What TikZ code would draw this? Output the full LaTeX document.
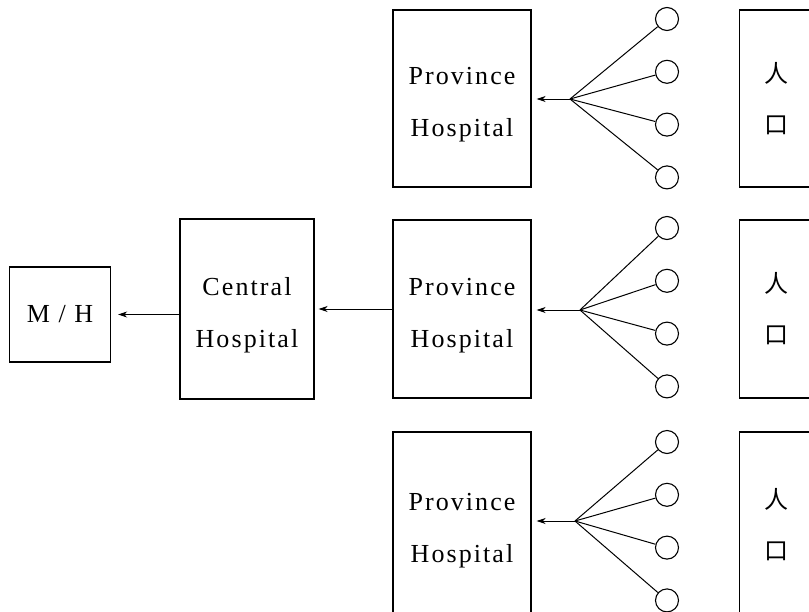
\documentclass[tikz,border=0pt]{standalone}
\usepackage{fontspec}
\setmainfont{Liberation Serif}[LetterSpace=8]
\newfontfamily\cjk{Noto Sans CJK SC}
\usetikzlibrary{arrows.meta,positioning}
\newcommand{\lift}{\rule{0pt}{30pt}}

\begin{document}
\begin{tikzpicture}[x=1pt,y=-1pt,
    box/.style={draw,line width=1.4pt,inner sep=0pt,align=center,font=\fontsize{26}{52}\selectfont},
    pop/.style={draw,circle,line width=1.1pt,minimum size=23pt,inner sep=0pt},
    feed/.style={line width=0.8pt,-{Stealth[length=9pt,width=6pt]}}]
  \useasboundingbox (0,0) rectangle (809,611);
  \clip (0,0) rectangle (809,611);
  % left part
  \node[box,minimum width=101pt,minimum height=95pt] (mh) at (60,314.5) {M / H};
  \node[box,minimum width=134pt,minimum height=180pt] (central) at (247,309) {\lift Central\\Hospital};
  % province rows
  \foreach \r/\y/\h in {1/98.5/177,2/309/178,3/524.5/185}{
    \node[box,minimum width=138pt,minimum height=\h pt] (prov\r) at (462,\y) {\lift Province\\Hospital};
    \node[box,anchor=west,minimum height=\h pt,text width=80pt,align=left,inner xsep=25pt,
          font=\cjk\fontsize{24}{51}\selectfont] (popbox\r) at (739,\y) {人\\口};
  }
  % people
  \foreach \r/\y in {1/19,2/228,3/442}{
    \foreach \i in {0,...,3}
      \node[pop] (c\r\i) at (667,\y+52.8*\i) {};
  }
  \coordinate (fan1) at (570,99);
  \coordinate (fan2) at (580,310);
  \coordinate (fan3) at (575,521);
  \foreach \r in {1,2,3}{
    \foreach \i in {0,...,3}
      \draw[line width=1pt] (fan\r) -- (c\r\i);
    \draw[feed,shorten >=5pt] (fan\r) -- (fan\r-|prov\r.east);
  }
  \draw[feed,shorten >=4pt] (prov2.west) -- (central.east|-prov2.west);
  \draw[feed,shorten >=7pt] (central.west|-mh.east) -- (mh.east);
\end{tikzpicture}
\end{document}
